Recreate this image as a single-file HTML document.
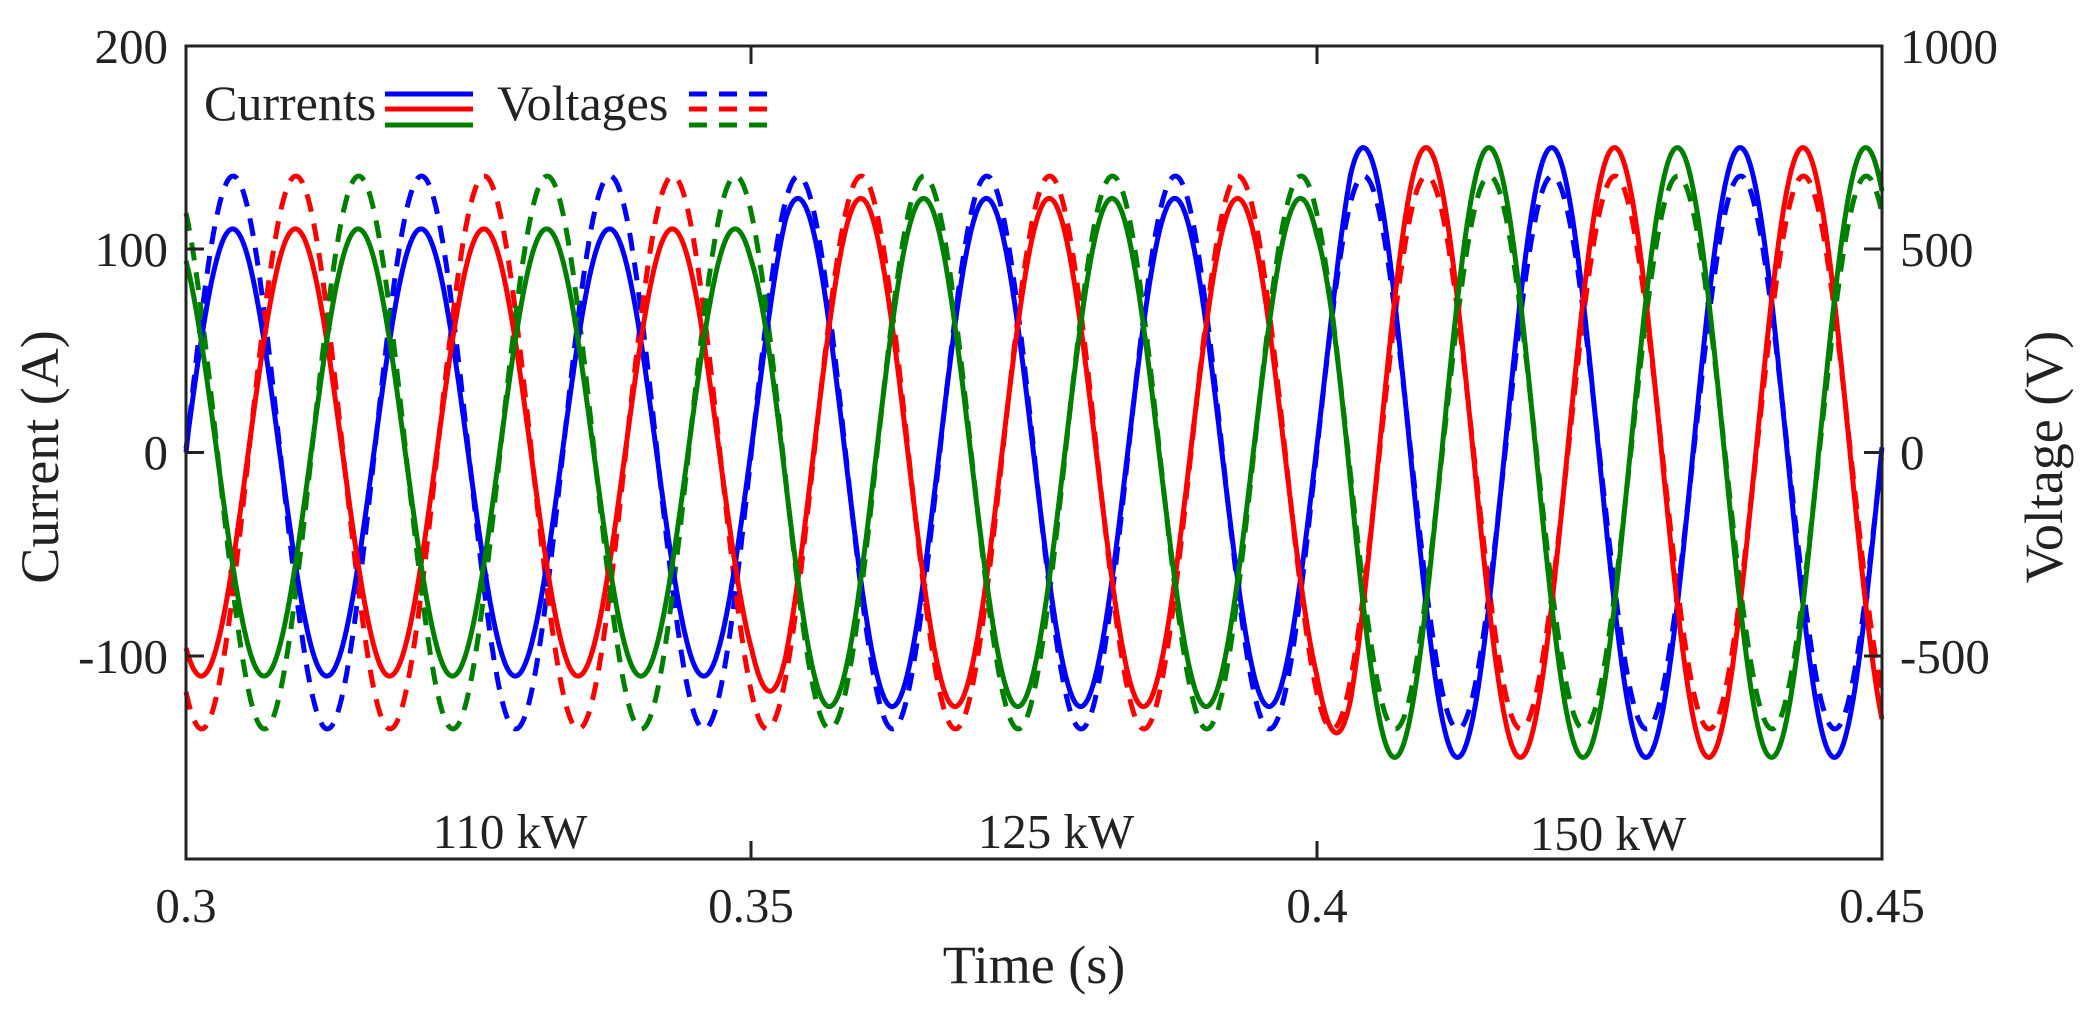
<!DOCTYPE html>
<html><head><meta charset="utf-8"><style>
html,body{margin:0;padding:0;background:#fff}
svg{display:block}
text{font-family:"Liberation Serif",serif;fill:#222}
</style></head><body>
<svg id="s" width="2089" height="1014" xmlns="http://www.w3.org/2000/svg">
<rect width="2089" height="1014" fill="#fff"/>
<g id="curves"></g>
<rect x="186" y="46" width="1696" height="813" fill="none" stroke="#222" stroke-width="3"/>
<g stroke="#222" stroke-width="3">
<line x1="186" y1="249" x2="204" y2="249"/><line x1="186" y1="452.5" x2="204" y2="452.5"/><line x1="186" y1="656" x2="204" y2="656"/>
<line x1="1882" y1="249" x2="1864" y2="249"/><line x1="1882" y1="452.5" x2="1864" y2="452.5"/><line x1="1882" y1="656" x2="1864" y2="656"/>
<line x1="751" y1="46" x2="751" y2="64"/><line x1="1317" y1="46" x2="1317" y2="64"/>
<line x1="751" y1="859" x2="751" y2="841"/><line x1="1317" y1="859" x2="1317" y2="841"/>
</g>
<g font-size="49" text-anchor="end">
<text x="168" y="63">200</text><text x="168" y="266">100</text><text x="168" y="469">0</text><text x="168" y="673">-100</text>
</g>
<g font-size="49" text-anchor="start">
<text x="1900" y="63">1000</text><text x="1900" y="266">500</text><text x="1900" y="469">0</text><text x="1900" y="673">-500</text>
</g>
<g font-size="49" text-anchor="middle">
<text x="186" y="922">0.3</text><text x="751" y="922">0.35</text><text x="1317" y="922">0.4</text><text x="1882" y="922">0.45</text>
<text x="510" y="848">110 kW</text><text x="1056" y="848">125 kW</text><text x="1608" y="850">150 kW</text>
</g>
<text x="1034" y="983" font-size="54" text-anchor="middle" fill="#444">Time (s)</text>
<text transform="translate(58,457) rotate(-90)" font-size="54" text-anchor="middle" fill="#444">Current (A)</text>
<text transform="translate(2062,457) rotate(-90)" font-size="54" text-anchor="middle" fill="#444">Voltage (V)</text>
<text x="204" y="120" font-size="50" fill="#111">Currents</text>
<text x="497" y="120" font-size="50" fill="#111">Voltages</text>
<g stroke-width="5">
<line x1="385" y1="94" x2="473" y2="94" stroke="#0000ff"/>
<line x1="385" y1="109" x2="473" y2="109" stroke="#ff0000"/>
<line x1="385" y1="125" x2="473" y2="125" stroke="#008000"/>
<line x1="689" y1="94" x2="778" y2="94" stroke="#0000ff" stroke-dasharray="18 12"/>
<line x1="689" y1="109" x2="778" y2="109" stroke="#ff0000" stroke-dasharray="18 12"/>
<line x1="689" y1="125" x2="778" y2="125" stroke="#008000" stroke-dasharray="18 12"/>
</g>
</svg>
<script>
(function(){
var g=document.getElementById('curves');
var X0=186,X1=1882,Y0=452.5,K=203.25/100;
function xp(t){return X0+(t-0.3)/0.15*(X1-X0);}
function ramp(t,a,b,c,t1,t2){
 function st(tt,v1,v2){var d=0.003;if(tt<=0)return v1;if(tt>=d)return v2;return v1+(v2-v1)*tt/d;}
 var v=a; if(t>=t1) v=st(t-t1,a,b); if(t>=t2) v=st(t-t2,b,c); return v;}
var w=2*Math.PI*60, d2r=Math.PI/180;
var cols=['#0000ff','#ff0000','#008000'], sh=[0,-120,120];
function build(isV,k){
 var pts=[];
 for(var i=0;i<=3000;i++){
  var t=0.3+0.15*i/3000;
  var val;
  if(isV){val=680*Math.sin(w*(t-0.3)+(0+sh[k])*d2r)/5;}
  else{var A=ramp(t,110,125,150,0.35,0.4);val=A*Math.sin(w*(t-0.3)+(1+sh[k])*d2r);}
  pts.push(xp(t).toFixed(1)+','+(Y0-val*K).toFixed(1));
 }
 var p=document.createElementNS('http://www.w3.org/2000/svg','polyline');
 p.setAttribute('points',pts.join(' '));
 p.setAttribute('fill','none');p.setAttribute('stroke',cols[k]);p.setAttribute('stroke-width','5');
 if(isV)p.setAttribute('stroke-dasharray','18 12');
 g.appendChild(p);
}
for(var k=0;k<3;k++)build(true,k);
for(var k=0;k<3;k++)build(false,k);
})();
</script>
</body></html>
